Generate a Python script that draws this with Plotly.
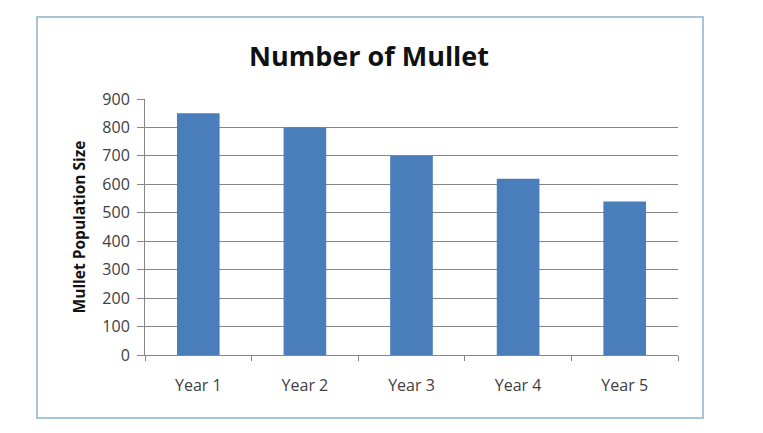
import plotly.graph_objects as go

#~ Data
years = ["Year 1", "Year 2", "Year 3", "Year 4", "Year 5"]
mullet = [850, 800, 700, 620, 540]
y_ticks = [0, 100, 200, 300, 400, 500, 600, 700, 800, 900]

FONT = "Open Sans"
#~ page body has an 8px margin, so pull everything up/left by 8
L, T, PW, PH = 137, 91, 533, 256

fig = go.Figure(go.Bar(x=years, y=mullet, marker=dict(color="#4a7ebb", line=dict(width=0)),
                       hovertemplate="%{x}: %{y}<extra></extra>"))

fig.update_layout(width=763, height=433,
                  margin=dict(l=L, r=763-L-PW, t=T, b=433-T-PH),
                  paper_bgcolor="white", plot_bgcolor="white",
                  bargap=0.6, showlegend=False,
                  font=dict(family=FONT, size=16, color="#404040"),
                  title=dict(text="<b>Number of Mullet</b>", x=(369-8)/763, xanchor="center",
                             y=1-(57-8)/433, yanchor="middle",
                             font=dict(family=FONT, size=27, color="#111111")))

fig.update_xaxes(showline=True, linecolor="#868686", linewidth=1,
                 ticks="outside", tickson="boundaries", ticklen=5, tickcolor="#868686",
                 ticklabelstandoff=16,
                 showgrid=False, tickfont=dict(size=16, color="#404040"))
fig.update_yaxes(range=[0, 900], tickvals=y_ticks, showline=True, linecolor="#868686",
                 linewidth=1, ticks="outside", ticklen=7, tickcolor="#868686",
                 ticklabelstandoff=4,
                 showgrid=True, gridcolor="#868686", gridwidth=1, zeroline=False,
                 tickfont=dict(size=16, color="#404040"),
                 title=dict(text="<b>Mullet Population Size</b>", standoff=12,
                            font=dict(family=FONT, size=15.5, color="#111111")))

#~ Excel-ish chart frame
fig.add_shape(type="rect", xref="paper", yref="paper",
              x0=(37-8-L)/PW, x1=(703-8-L)/PW, y0=-(418-355)/PH, y1=(355-17)/PH,
              line=dict(color="#a9c4d4", width=2), layer="below")

fig.write_html("out.html")
